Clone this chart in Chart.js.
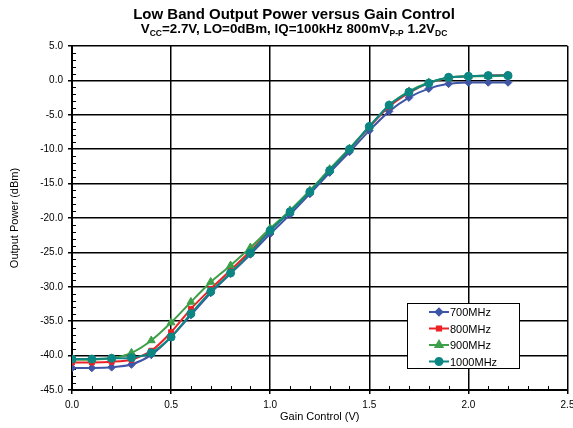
<!DOCTYPE html>
<html>
<head>
<meta charset="utf-8">
<script src="https://cdn.jsdelivr.net/npm/chart.js@4.4.0/dist/chart.umd.min.js"></script>
<style>
  body { margin: 0; background: #fff; }
</style>
</head>
<body>
<canvas id="chart" width="573" height="428"></canvas>
<script>
const gainControl = [0.0, 0.1, 0.2, 0.3, 0.4, 0.5, 0.6, 0.7, 0.8, 0.9, 1.0, 1.1, 1.2, 1.3, 1.4, 1.5, 1.6, 1.7, 1.8, 1.9, 2.0, 2.1, 2.2];
const seriesLabels = ['700MHz', '800MHz', '900MHz', '1000MHz'];
const power700 = [-41.8, -41.8, -41.7, -41.3, -39.9, -37.3, -34.1, -30.9, -28.1, -25.3, -22.3, -19.5, -16.5, -13.4, -10.4, -7.3, -4.5, -2.5, -1.2, -0.5, -0.3, -0.3, -0.3];
const power800 = [-41.0, -41.0, -40.9, -40.6, -39.3, -36.6, -33.2, -30.3, -27.6, -24.8, -21.8, -19.0, -16.1, -13.0, -10.0, -6.8, -3.8, -1.8, -0.4, 0.4, 0.6, 0.7, 0.8];
const power900 = [-40.6, -40.6, -40.4, -39.6, -37.8, -35.2, -32.2, -29.3, -26.9, -24.3, -21.5, -18.9, -16.0, -12.9, -9.9, -6.7, -3.6, -1.6, -0.3, 0.4, 0.6, 0.6, 0.7];
const power1000 = [-40.5, -40.5, -40.4, -40.3, -39.6, -37.3, -33.9, -30.7, -28.0, -25.1, -21.8, -19.1, -16.2, -13.1, -10.0, -6.7, -3.6, -1.7, -0.4, 0.45, 0.6, 0.7, 0.7];

const titleText = 'Low Band Output Power versus Gain Control';
// [text, isSubscript]
const subtitleParts = [['V', false], ['CC', true], ['=2.7V, LO=0dBm, IQ=100kHz 800mV', false], ['P-P', true], [' 1.2V', false], ['DC', true]];
const xTitle = 'Gain Control (V)';
const yTitle = 'Output Power (dBm)';

const font = "'Liberation Sans', Arial, sans-serif";

function toPoints(values) {
  return gainControl.map((g, i) => ({ x: g, y: values[i] }));
}

const isMajorX = v => Math.abs(Math.round(v * 10) % 5) === 0;
const isMajorY = v => Math.round(v) % 5 === 0;

const titlePlugin = {
  id: 'titles',
  afterDraw(chart) {
    const ctx = chart.ctx;
    const cx = 294;
    ctx.save();
    ctx.fillStyle = '#000';
    ctx.textBaseline = 'alphabetic';
    ctx.font = 'bold 15px ' + font;
    ctx.textAlign = 'center';
    ctx.fillText(titleText, cx, 19);

    const mainFont = 'bold 13.4px ' + font;
    const subFont = 'bold 8.5px ' + font;
    let total = 0;
    subtitleParts.forEach(([t, sub]) => {
      ctx.font = sub ? subFont : mainFont;
      total += ctx.measureText(t).width;
    });
    let x = cx - total / 2;
    ctx.textAlign = 'left';
    subtitleParts.forEach(([t, sub]) => {
      ctx.font = sub ? subFont : mainFont;
      ctx.fillText(t, x, sub ? 36 : 33);
      x += ctx.measureText(t).width;
    });
    ctx.restore();
  }
};

const minorTickPlugin = {
  id: 'minorTicks',
  beforeDatasetsDraw(chart) {
    const ctx = chart.ctx;
    const xs = chart.scales.x, ys = chart.scales.y;
    ctx.save();
    ctx.strokeStyle = '#000';
    ctx.lineWidth = 1;
    xs.ticks.forEach(t => {
      if (isMajorX(t.value)) return;
      const px = Math.round(xs.getPixelForValue(t.value)) + 0.5;
      ctx.beginPath();
      ctx.moveTo(px, ys.bottom);
      ctx.lineTo(px, ys.bottom - 4);
      ctx.stroke();
    });
    ys.ticks.forEach(t => {
      if (isMajorY(t.value)) return;
      const py = Math.round(ys.getPixelForValue(t.value)) + 0.5;
      ctx.beginPath();
      ctx.moveTo(xs.left, py);
      ctx.lineTo(xs.left + 4, py);
      ctx.stroke();
    });
    ctx.restore();
  }
};

const legendPlugin = {
  id: 'boxLegend',
  afterDraw(chart) {
    const ctx = chart.ctx;
    const left = 407, top = 303, w = 112, h = 65;
    ctx.save();
    ctx.fillStyle = '#fff';
    ctx.fillRect(left, top, w, h);
    ctx.strokeStyle = '#000';
    ctx.lineWidth = 1;
    ctx.strokeRect(left + 0.5, top + 0.5, w, h);
    chart.data.datasets.forEach((ds, i) => {
      const y = top + 9 + i * 16.5;
      ctx.strokeStyle = ds.borderColor;
      ctx.lineWidth = 2;
      ctx.beginPath();
      ctx.moveTo(left + 22, y);
      ctx.lineTo(left + 42, y);
      ctx.stroke();
      ctx.fillStyle = ds.backgroundColor;
      Chart.helpers.drawPoint(ctx, {
        pointStyle: ds.pointStyle, radius: ds.pointRadius - 0.5, rotation: 0, borderWidth: 1
      }, left + 32, y);
      ctx.fillStyle = '#000';
      ctx.font = '11px ' + font;
      ctx.textBaseline = 'middle';
      ctx.textAlign = 'left';
      ctx.fillText(seriesLabels[i], left + 43, y + 1);
    });
    ctx.restore();
  }
};

function series(label, values, color, style, radius, order) {
  return {
    label: label,
    data: toPoints(values),
    borderColor: color,
    backgroundColor: color,
    borderWidth: 2,
    pointStyle: style,
    pointRadius: radius,
    pointBorderWidth: 1,
    tension: 0.25,
    order: order
  };
}

const chart = new Chart(document.getElementById('chart').getContext('2d'), {
  type: 'line',
  data: {
    datasets: [
      series(seriesLabels[0], power700, '#3f55a6', 'rectRot', 3.8, 3),
      series(seriesLabels[1], power800, '#ec2227', 'rect', 3.5, 2),
      series(seriesLabels[2], power900, '#3d9f49', 'triangle', 4.5, 1),
      series(seriesLabels[3], power1000, '#0c8683', 'circle', 4, 0)
    ]
  },
  options: {
    responsive: false,
    animation: false,
    layout: { padding: { top: 46, right: 5, left: 0, bottom: 0 } },
    plugins: {
      legend: { display: false },
      tooltip: { enabled: false }
    },
    scales: {
      x: {
        type: 'linear',
        min: 0,
        max: 2.5,
        afterFit: s => { s.height = 38; s.paddingRight = 0; s.paddingLeft = 0; },
        border: { color: '#000', width: 2 },
        grid: {
          color: c => isMajorX(c.tick.value) ? '#000' : 'rgba(0,0,0,0)',
          tickColor: c => isMajorX(c.tick.value) ? '#000' : 'rgba(0,0,0,0)',
          lineWidth: 1.5,
          tickLength: 4
        },
        ticks: {
          stepSize: 0.1,
          autoSkip: false,
          maxRotation: 0,
          padding: 5,
          color: '#000',
          font: { family: font, size: 10 },
          callback: v => isMajorX(v) ? v.toFixed(1) : ''
        },
        title: {
          display: true,
          text: xTitle,
          color: '#000',
          font: { family: font, size: 11 },
          padding: { top: 0, bottom: 4 }
        }
      },
      y: {
        min: -45,
        max: 5,
        afterFit: s => { s.width = 72; },
        border: { color: '#000', width: 2 },
        grid: {
          color: c => isMajorY(c.tick.value) ? '#000' : 'rgba(0,0,0,0)',
          tickColor: c => isMajorY(c.tick.value) ? '#000' : 'rgba(0,0,0,0)',
          lineWidth: 1.5,
          tickLength: 4
        },
        ticks: {
          stepSize: 1,
          autoSkip: false,
          padding: 5,
          color: '#000',
          font: { family: font, size: 10 },
          callback: v => isMajorY(v) ? v.toFixed(1) : ''
        },
        title: {
          display: true,
          text: yTitle,
          color: '#000',
          font: { family: font, size: 11 },
          padding: { top: 8, bottom: 0 }
        }
      }
    }
  },
  plugins: [titlePlugin, minorTickPlugin, legendPlugin]
});
</script>
</body>
</html>
